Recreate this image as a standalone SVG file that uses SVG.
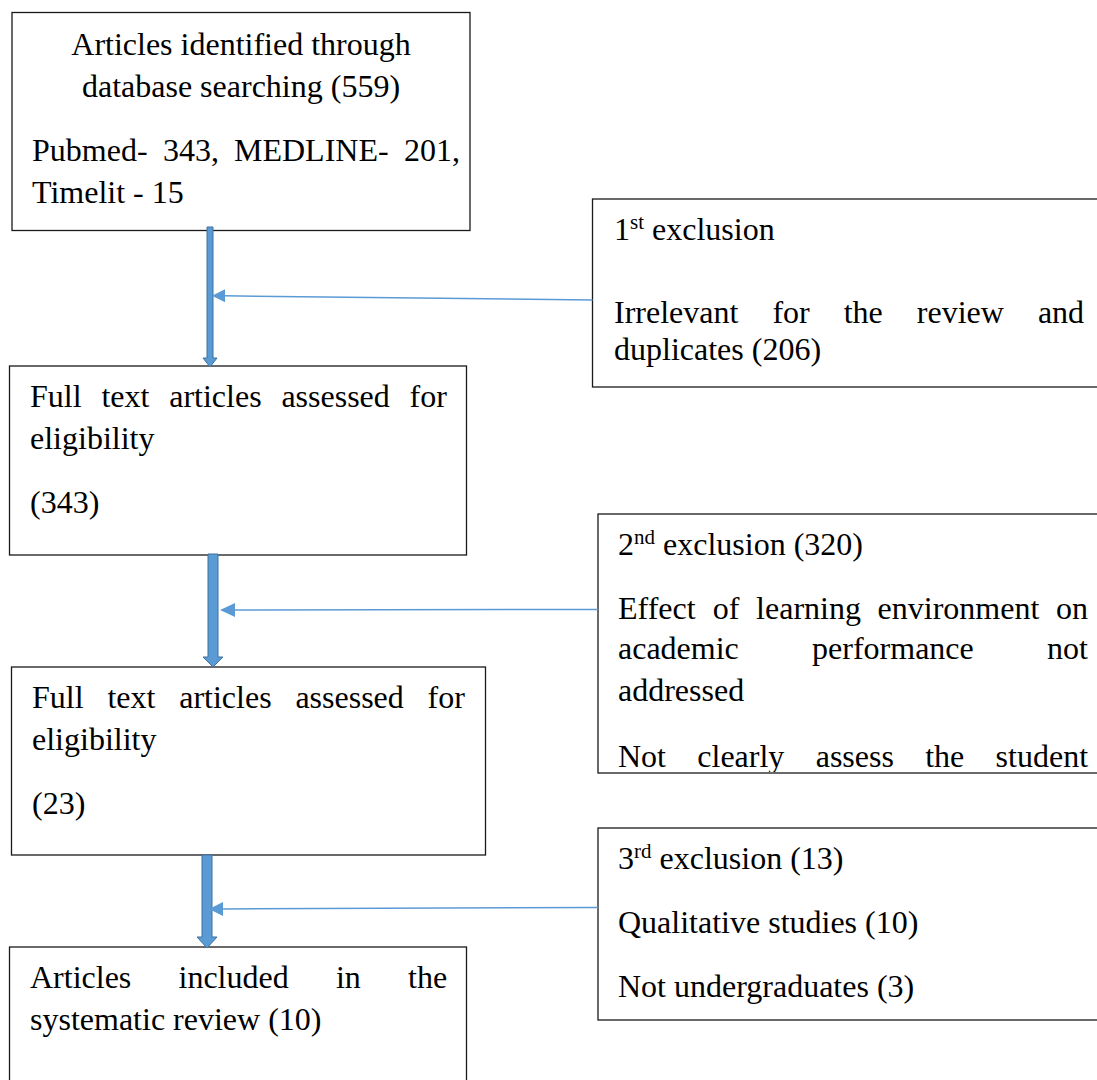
<svg xmlns="http://www.w3.org/2000/svg" width="1097" height="1080" viewBox="0 0 1097 1080">
<style>
.box{fill:#fff;stroke:#1a1a1a;stroke-width:1.3}
text{font-family:"Liberation Serif","Times New Roman",serif;font-size:32px;fill:#000}
.sup{font-size:21px}
.thin{stroke:#5B9BD5;stroke-width:1.5;fill:none}
.head{fill:#5B9BD5}
.block{fill:#5B9BD5;stroke:#41719C;stroke-width:1}
</style>
<defs>
<clipPath id="clipR2"><rect x="598" y="514" width="520" height="258"/></clipPath>
</defs>
<rect width="1097" height="1080" fill="#fff"/>

<g id="node-identified">
<rect class="box" x="12" y="12.5" width="458" height="218"/>
<text x="241" y="55" text-anchor="middle">Articles identified through</text>
<text x="241" y="97" text-anchor="middle">database searching (559)</text>
<text y="161"><tspan x="32">Pubmed-</tspan><tspan x="163">343,</tspan><tspan x="234">MEDLINE-</tspan><tspan x="404">201,</tspan></text>
<text x="32" y="203">Timelit - 15</text>
</g>

<g id="node-fulltext1">
<rect class="box" x="9.5" y="366" width="457" height="189"/>
<text y="407"><tspan x="30">Full</tspan><tspan x="101.4">text</tspan><tspan x="169.2">articles</tspan><tspan x="281.4">assessed</tspan><tspan x="409.6">for</tspan></text>
<text x="30" y="449">eligibility</text>
<text x="30" y="513">(343)</text>
</g>

<g id="node-fulltext2">
<rect class="box" x="11.5" y="667" width="474" height="188"/>
<text y="708"><tspan x="32">Full</tspan><tspan x="107.4">text</tspan><tspan x="179.2">articles</tspan><tspan x="295.4">assessed</tspan><tspan x="427.6">for</tspan></text>
<text x="32" y="750">eligibility</text>
<text x="32" y="814">(23)</text>
</g>

<g id="node-included">
<rect class="box" x="9.5" y="947" width="457" height="150"/>
<text y="988"><tspan x="30">Articles</tspan><tspan x="178.5">included</tspan><tspan x="335.9">in</tspan><tspan x="408">the</tspan></text>
<text x="30" y="1030">systematic review (10)</text>
</g>

<g id="node-excl1">
<rect class="box" x="592.5" y="199" width="520" height="188"/>
<text x="614" y="240">1<tspan class="sup" dy="-11">st</tspan><tspan dy="11"> exclusion</tspan></text>
<text y="323"><tspan x="614">Irrelevant</tspan><tspan x="772.4">for</tspan><tspan x="843.7">the</tspan><tspan x="916.8">review</tspan><tspan x="1037.9">and</tspan></text>
<text x="614" y="360">duplicates (206)</text>
</g>

<g id="node-excl2">
<rect class="box" x="598" y="514" width="520" height="259"/>
<g clip-path="url(#clipR2)">
<text x="618" y="555">2<tspan class="sup" dy="-11">nd</tspan><tspan dy="11"> exclusion (320)</tspan></text>
<text y="619"><tspan x="618">Effect</tspan><tspan x="712.8">of</tspan><tspan x="756.1">learning</tspan><tspan x="877.6">environment</tspan><tspan x="1056">on</tspan></text>
<text y="659"><tspan x="618">academic</tspan><tspan x="812.1">performance</tspan><tspan x="1047.1">not</tspan></text>
<text x="618" y="701">addressed</text>
<text y="767"><tspan x="618">Not</tspan><tspan x="697.3">clearly</tspan><tspan x="815.7">assess</tspan><tspan x="925.2">the</tspan><tspan x="995.6">student</tspan></text>
</g>
</g>

<g id="node-excl3">
<rect class="box" x="598" y="828" width="520" height="192"/>
<text x="618" y="869">3<tspan class="sup" dy="-11">rd</tspan><tspan dy="11"> exclusion (13)</tspan></text>
<text x="618" y="933">Qualitative studies (10)</text>
<text x="618" y="997">Not undergraduates (3)</text>
</g>

<g id="connectors">
<path class="block" d="M207,227 H213 V358 H217 L210,367 L203,358 H207 Z"/>
<path class="block" d="M208,554 H218 V657 H223 L213,667 L203,657 H208 Z"/>
<path class="block" d="M202,855 H212 V937 H217 L207,948 L197,937 H202 Z"/>
<line class="thin" x1="592.5" y1="300" x2="224" y2="295.8"/>
<path class="head" d="M212,295.7 L225,289.3 L225,302.3 Z"/>
<line class="thin" x1="598" y1="609.5" x2="234" y2="610"/>
<path class="head" d="M220,610 L235,603 L235,617 Z"/>
<line class="thin" x1="598" y1="907.5" x2="221" y2="909"/>
<path class="head" d="M209,909 L223,902 L223,916 Z"/>
</g>
</svg>
